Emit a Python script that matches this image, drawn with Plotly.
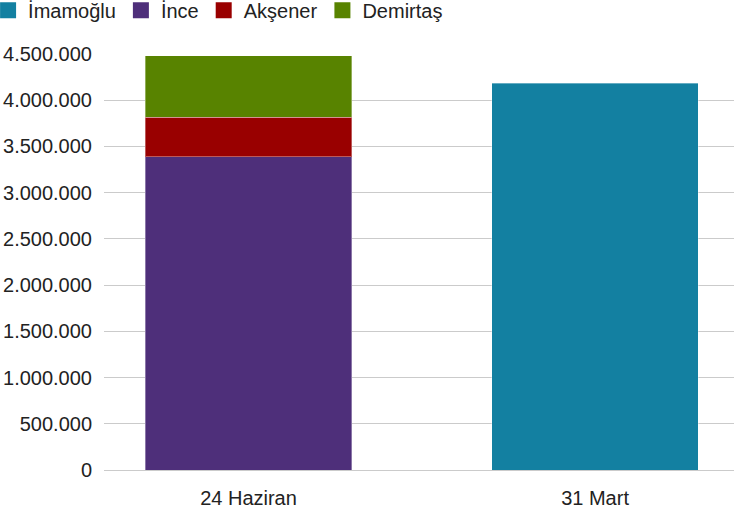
import plotly.graph_objects as go

categories = ["24 Haziran", "31 Mart"]
imamoglu = [None, 4186000]
ince = [3386000, None]
aksener = [432000, None]
demirtas = [663000, None]
series_names = ["İmamoğlu", "İnce", "Akşener", "Demirtaş"]
colors = ["#1380A1", "#4E2F7A", "#990000", "#588300"]
y_ticks = [0, 500000, 1000000, 1500000, 2000000, 2500000, 3000000, 3500000, 4000000, 4500000]
y_tick_labels = ["0", "500.000", "1.000.000", "1.500.000", "2.000.000", "2.500.000",
                 "3.000.000", "3.500.000", "4.000.000", "4.500.000"]

fig = go.Figure()
for name, vals, col in zip(series_names, [imamoglu, ince, aksener, demirtas], colors):
    fig.add_trace(go.Bar(
        x=categories, y=vals, name=name, legendgroup=name, showlegend=False,
        marker=dict(color=col, line=dict(color="rgba(255,255,255,0.35)", width=1)),
        width=0.597,
    ))
for name, col in zip(series_names, colors):
    fig.add_trace(go.Scatter(
        x=[None], y=[None], mode="markers", name=name, legendgroup=name,
        marker=dict(symbol="square", size=18, color=col),
    ))

fig.update_layout(
    barmode="stack",
    width=738, height=509,
    margin=dict(l=104, r=4, t=54, b=39, autoexpand=False),
    paper_bgcolor="white", plot_bgcolor="white",
    font=dict(family="Liberation Sans, Arial, sans-serif", size=20, color="#222222"),
    showlegend=True,
    legend=dict(orientation="h", x=-0.184, xanchor="left", y=1.152, yanchor="top",
                traceorder="normal", font=dict(size=20), itemsizing="trace",
                bgcolor="rgba(0,0,0,0)"),
    xaxis=dict(type="category", range=[-0.417, 1.401], showgrid=False,
               showline=False, ticks="", tickfont=dict(size=20), automargin=False,
               ticklabelstandoff=14),
    yaxis=dict(range=[0, 4500000], tickvals=y_ticks, ticktext=y_tick_labels,
               showgrid=True, gridcolor="#cbcbcb", gridwidth=1,
               zeroline=True, zerolinecolor="#cbcbcb", zerolinewidth=1,
               showline=False, ticks="", tickfont=dict(size=20), automargin=False,
               ticklabelstandoff=11),
)
fig.write_html("out.html", config={"displayModeBar": False},
               post_script="document.body.style.margin='0';")
